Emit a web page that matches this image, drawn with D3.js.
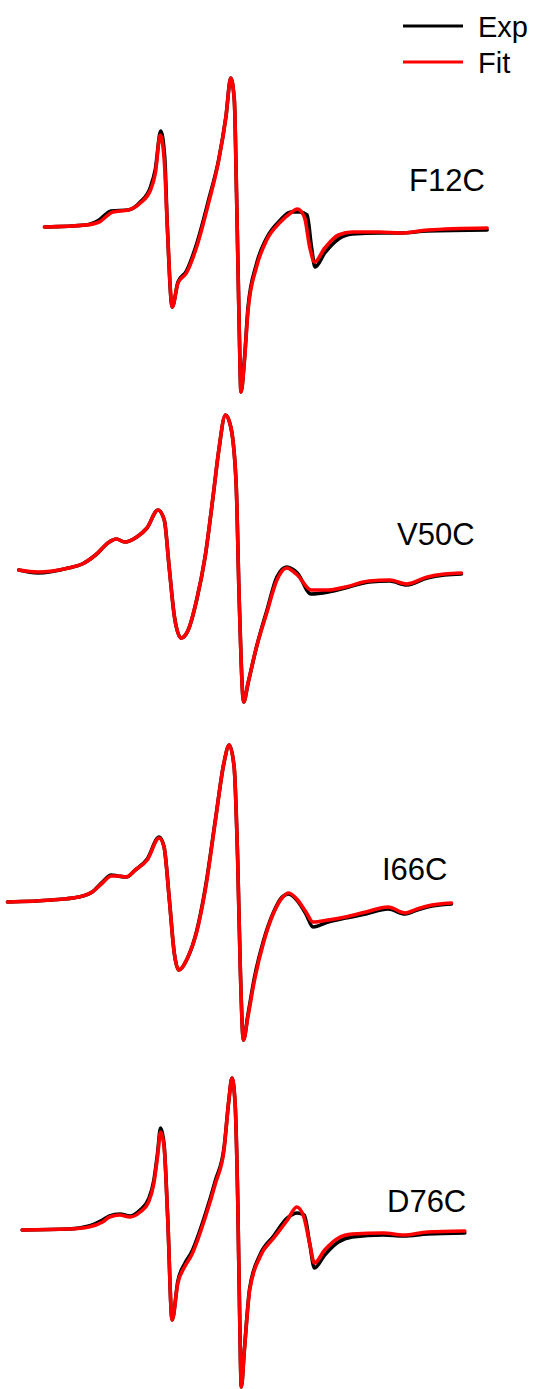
<!DOCTYPE html>
<html>
<head>
<meta charset="utf-8">
<script src="https://cdn.jsdelivr.net/npm/d3@7"></script>
<style>
  html, body { margin: 0; padding: 0; background: #fff; }
  svg { display: block; }
</style>
</head>
<body>
<div class="charts-div"></div>
<script>
// sample names, top to bottom
const samples = ["F12C", "V50C", "I66C", "D76C"];
const seriesNames = ["Exp", "Fit"];
const seriesColors = ["#000000", "#ff0000"];

// spectra: [field (relative, 0-100), amplitude (a.u.)]
const expF12C = [[0,0],[9.3,0.02],[12.3,0.07],[15.0,0.16],[18.9,0.17],[21.6,0.25],[23.9,0.40],[25.0,0.58],[26.2,0.96],[27.1,0.70],[27.7,0.0],[28.8,-0.80],[30.1,-0.55],[32.0,-0.44],[34.3,-0.17],[37.0,0.27],[39.3,0.68],[40.9,1.10],[42.0,1.49],[42.8,1.27],[43.3,0.34],[43.9,-1.00],[44.3,-1.65],[45.1,-1.31],[45.9,-0.80],[47.8,-0.37],[50.1,-0.11],[53.2,0.07],[55.5,0.15],[57.5,0.15],[59.2,0.12],[60.2,-0.20],[61.0,-0.40],[63.2,-0.26],[66.3,-0.12],[69.4,-0.07],[75.6,-0.06],[80.2,-0.06],[86.4,-0.04],[99.8,-0.03]];
const fitF12C = [[0,0],[9.3,0.02],[12.3,0.05],[15.4,0.15],[18.9,0.17],[21.6,0.24],[23.9,0.37],[25.0,0.54],[26.1,0.92],[27.0,0.67],[27.7,0.0],[28.8,-0.80],[30.1,-0.56],[32.0,-0.46],[34.3,-0.20],[37.0,0.24],[39.3,0.67],[40.9,1.10],[42.0,1.49],[42.8,1.27],[43.3,0.34],[43.9,-1.00],[44.3,-1.65],[45.1,-1.33],[45.9,-0.83],[47.8,-0.40],[50.1,-0.13],[53.2,0.05],[55.5,0.14],[57.0,0.18],[58.6,0.10],[59.8,-0.20],[60.9,-0.35],[63.2,-0.21],[66.3,-0.08],[69.4,-0.05],[75.6,-0.05],[80.2,-0.06],[86.4,-0.03],[99.8,-0.01]];

const expV50C = [[0,0],[4.3,-0.03],[11.2,0.02],[14.3,0.06],[17.3,0.15],[20.4,0.28],[22.0,0.31],[23.9,0.28],[26.6,0.33],[28.9,0.42],[31.4,0.60],[32.8,0.50],[33.9,0.03],[35.1,-0.47],[36.6,-0.68],[38.2,-0.60],[40.1,-0.30],[42.0,0.13],[43.9,0.77],[45.1,1.20],[46.6,1.55],[47.8,1.43],[49.0,0.87],[49.7,-0.30],[50.7,-1.32],[51.7,-1.13],[53.6,-0.77],[55.9,-0.41],[58.2,-0.07],[60.4,0.03],[62.8,-0.03],[65.9,-0.24],[69.8,-0.22],[73.6,-0.18],[79.0,-0.12],[83.6,-0.11],[87.5,-0.15],[92.1,-0.08],[96.0,-0.05],[99.8,-0.04]];
const fitV50C = [[0,0],[4.3,-0.02],[11.2,0.02],[14.3,0.06],[17.3,0.15],[20.4,0.28],[22.0,0.31],[23.9,0.28],[26.6,0.33],[28.9,0.42],[31.4,0.60],[32.8,0.50],[33.9,0.03],[35.1,-0.47],[36.6,-0.68],[38.2,-0.60],[40.1,-0.30],[42.0,0.13],[43.9,0.77],[45.1,1.20],[46.6,1.55],[47.8,1.43],[49.0,0.87],[49.7,-0.30],[50.7,-1.32],[51.7,-1.13],[53.6,-0.77],[55.9,-0.43],[58.2,-0.10],[60.4,0.02],[62.8,-0.05],[65.9,-0.20],[69.8,-0.20],[73.6,-0.17],[79.0,-0.11],[83.6,-0.10],[87.5,-0.14],[92.1,-0.07],[96.0,-0.04],[99.8,-0.03]];

const expI66C = [[0,0],[9.9,0.02],[16.0,0.05],[19.1,0.10],[21.4,0.20],[23.4,0.27],[24.9,0.26],[26.8,0.25],[28.8,0.32],[31.5,0.43],[34.2,0.65],[35.3,0.55],[36.5,0.02],[37.6,-0.51],[38.6,-0.68],[40.7,-0.55],[42.6,-0.30],[44.6,0.14],[46.9,0.83],[48.8,1.39],[50.0,1.57],[51.1,1.35],[51.9,0.42],[52.5,-0.68],[53.2,-1.38],[54.2,-1.13],[55.7,-0.75],[57.7,-0.39],[60.0,-0.10],[61.9,0.05],[63.4,0.08],[65.4,0.01],[67.3,-0.12],[68.9,-0.25],[72.3,-0.20],[76.2,-0.16],[80.8,-0.12],[85.8,-0.07],[89.7,-0.12],[92.4,-0.08],[94.7,-0.05],[100.1,-0.02]];
const fitI66C = [[0,0],[9.9,0.02],[16.0,0.05],[19.1,0.10],[21.4,0.19],[23.4,0.26],[24.9,0.26],[26.8,0.25],[28.8,0.32],[31.5,0.42],[34.2,0.64],[35.3,0.55],[36.5,0.02],[37.6,-0.51],[38.6,-0.68],[40.7,-0.55],[42.6,-0.31],[44.6,0.12],[46.9,0.82],[48.8,1.39],[50.0,1.57],[51.1,1.35],[51.9,0.42],[52.5,-0.68],[53.2,-1.38],[54.2,-1.15],[55.7,-0.78],[57.7,-0.41],[60.0,-0.11],[61.9,0.04],[63.4,0.09],[65.4,0.02],[67.3,-0.10],[68.9,-0.20],[72.3,-0.18],[76.2,-0.15],[80.8,-0.10],[85.8,-0.05],[89.7,-0.11],[92.4,-0.07],[94.7,-0.04],[100.1,-0.01]];

const expD76C = [[0,0],[10.4,0.01],[15.0,0.04],[18.1,0.10],[19.7,0.14],[22.0,0.16],[24.3,0.14],[26.6,0.20],[28.5,0.31],[29.7,0.50],[30.5,0.76],[31.2,1.02],[32.0,0.85],[32.8,0.13],[33.8,-0.90],[35.1,-0.51],[36.6,-0.34],[38.2,-0.22],[41.3,0.16],[43.6,0.50],[45.5,0.82],[46.6,1.30],[47.3,1.52],[48.0,1.27],[48.6,0.30],[49.1,-1.03],[49.4,-1.57],[50.1,-1.19],[51.3,-0.58],[53.6,-0.25],[56.7,-0.06],[59.8,0.12],[62.0,0.17],[63.6,0.15],[64.8,-0.13],[65.9,-0.38],[68.2,-0.25],[71.3,-0.12],[74.4,-0.07],[81.4,-0.05],[86.0,-0.06],[91.4,-0.04],[99.8,-0.03]];
const fitD76C = [[0,0],[10.4,0.01],[15.0,0.03],[18.1,0.08],[19.7,0.13],[22.0,0.15],[24.3,0.13],[26.6,0.18],[28.5,0.28],[29.7,0.47],[30.5,0.73],[31.2,0.98],[32.0,0.83],[32.8,0.13],[33.8,-0.90],[35.1,-0.53],[36.6,-0.37],[38.2,-0.25],[41.3,0.13],[43.6,0.47],[45.5,0.80],[46.6,1.30],[47.3,1.52],[48.0,1.27],[48.6,0.30],[49.1,-1.03],[49.4,-1.57],[50.1,-1.20],[51.3,-0.60],[53.6,-0.27],[56.7,-0.08],[59.8,0.10],[61.9,0.23],[63.5,0.13],[64.8,-0.13],[65.9,-0.33],[68.2,-0.20],[71.3,-0.08],[74.4,-0.04],[81.4,-0.03],[86.0,-0.05],[91.4,-0.02],[99.8,-0.01]];

const expData = [expF12C, expV50C, expI66C, expD76C];
const fitData = [fitF12C, fitV50C, fitI66C, fitD76C];

// layout of the stacked panels (pixels)
const panelLayout = [
    { left: 44.5, base: 227, labelX: 409, labelY: 191 },
    { left: 18.8, base: 570, labelX: 397, labelY: 545 },
    { left: 7.5, base: 902, labelX: 382, labelY: 880 },
    { left: 22.2, base: 1230, labelX: 387, labelY: 1212 }
];
const spanPx = 443.5;
const unitPx = 100;

const width = 537, height = 1389;
const fontFamily = "'Liberation Sans', Arial, sans-serif";

const svg = d3.select(".charts-div").append("svg")
    .attr("width", width)
    .attr("height", height);

samples.forEach((name, i) => {
    const p = panelLayout[i];
    const x = d3.scaleLinear().domain([0, 100]).range([p.left, p.left + spanPx]);
    const y = d3.scaleLinear().domain([0, 1]).range([p.base, p.base - unitPx]);

    const line = d3.line()
        .x((d) => x(d[0]))
        .y((d) => y(d[1]))
        .curve(d3.curveMonotoneX);

    const g = svg.append("g").attr("class", "panel");

    // exp first, fit drawn on top
    [expData[i], fitData[i]].forEach((series, k) => {
        g.append("path")
            .datum(series)
            .attr("d", line)
            .attr("fill", "none")
            .attr("stroke", seriesColors[k])
            .attr("stroke-width", 3.6)
            .attr("stroke-linejoin", "round")
            .attr("stroke-linecap", "round");
    });

    g.append("text")
        .attr("x", p.labelX)
        .attr("y", p.labelY)
        .attr("font-family", fontFamily)
        .attr("font-size", 31)
        .attr("fill", "#000")
        .text(name);
});

// legend
const legend = svg.append("g").attr("class", "legend");
seriesNames.forEach((name, k) => {
    const ly = 26 + k * 36;
    legend.append("line")
        .attr("x1", 403).attr("x2", 463)
        .attr("y1", ly).attr("y2", ly)
        .attr("stroke", seriesColors[k])
        .attr("stroke-width", 2.8);
    legend.append("text")
        .attr("x", 478)
        .attr("y", ly + 10.5)
        .attr("font-family", fontFamily)
        .attr("font-size", 29)
        .attr("fill", "#000")
        .text(name);
});
</script>
</body>
</html>
